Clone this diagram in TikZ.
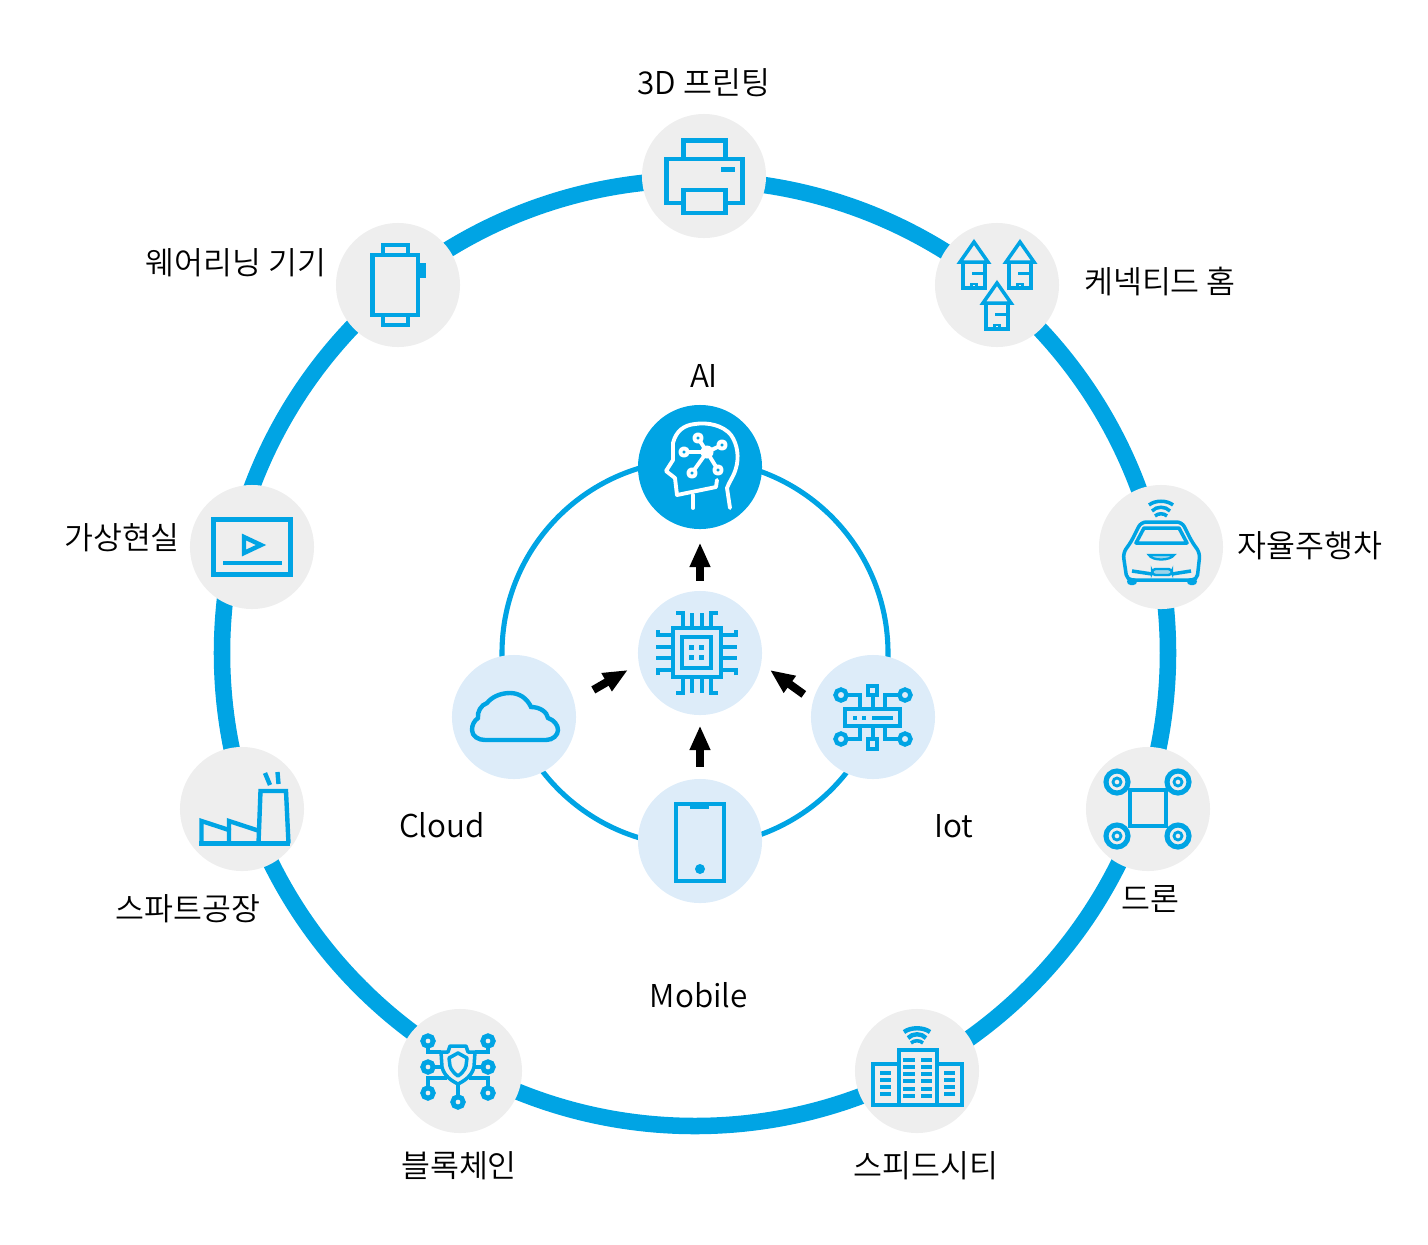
\documentclass[tikz,border=0pt]{standalone}
\usepackage{fontspec}
\setmainfont{Noto Sans CJK KR DemiLight}
\usetikzlibrary{arrows.meta}
\definecolor{ringblue}{HTML}{00A4E4}
\definecolor{softgrey}{HTML}{EEEEEE}
\definecolor{softblue}{HTML}{DDECF9}
\tikzset{
	outnode/.style={circle, fill=softgrey, inner sep=0pt, minimum size=70.6pt},
	innode/.style={circle, fill=softblue, inner sep=0pt, minimum size=70.6pt},
	ainode/.style={circle, fill=ringblue, inner sep=0pt, minimum size=70.6pt},
	lab/.style={inner sep=0pt, font=\fontsize{17.9pt}{20pt}\selectfont},
	bigring/.style={draw=ringblue, line width=9.4pt},
	smallring/.style={draw=ringblue, line width=2.9pt},
	icon/.style={draw=ringblue, line width=2.5pt},
	thinicon/.style={draw=ringblue, line width=2pt},
	flow/.style={-{Triangle[width=11pt,length=14pt]}, line width=4.6pt, black},
}
\begin{document}
\begin{tikzpicture}[x=0.02cm, y=-0.02cm]
	\useasboundingbox (0,0) rectangle (1428,1245);
	\coordinate (hub) at (695,653);
	\draw[bigring] (hub) circle (473);
	\draw[smallring] (hub) circle (193);
	% outer nodes
	\node[outnode] (printer) at (704,176) {};
	\node[outnode] (homes) at (997,285) {};
	\node[outnode] (car) at (1161,547) {};
	\node[outnode] (drone) at (1148,809) {};
	\node[outnode] (city) at (917,1071) {};
	\node[outnode] (chain) at (460,1071) {};
	\node[outnode] (factory) at (242,809) {};
	\node[outnode] (screen) at (252,547) {};
	\node[outnode] (watch) at (398,285) {};
	% inner nodes
	\node[ainode] (ai) at (700,467) {};
	\node[innode] (chip) at (700,653) {};
	\node[innode] (cloud) at (514,717) {};
	\node[innode] (iot) at (873,717) {};
	\node[innode] (mobile) at (700,841) {};
	\draw[flow, shorten <=5.7pt, shorten >=7.5pt] (chip) -- (ai);
	\draw[flow, shorten <=6.8pt, shorten >=5.8pt] (mobile) -- (chip);
	\draw[flow, shorten <=12.5pt, shorten >=7pt] (cloud.15) -- (chip.190);
	\draw[flow, shorten <=6.3pt, shorten >=6pt] (iot.165) -- (chip.-10);
	% labels
	\node[lab] (printerlab) at (704,83) {3D 프린팅};
	\node[lab] (homeslab) at (1160,281) {케넥티드 홈};
	\node[lab] (carlab) at (1310,546) {자율주행차};
	\node[lab] (dronelab) at (1150,899) {드론};
	\node[lab] (citylab) at (926,1166) {스피드시티};
	\node[lab] (chainlab) at (459,1166) {블록체인};
	\node[lab] (factorylab) at (188,909) {스파트공장};
	\node[lab] (screenlab) at (122,538) {가상현실};
	\node[lab] (watchlab) at (236,263) {웨어리닝 기기};
	\node[lab] (ailab) at (704,376) {AI};
	\node[lab] (cloudlab) at (442,825) {Cloud};
	\node[lab] (iotlab) at (954,826) {Iot};
	\node[lab] (mobilelab) at (699,995) {Mobile};
	% printer
	\draw[icon] (683.5,140.5) rectangle (725.5,159);
	\draw[icon] (666.5,159) rectangle (742.5,203);
	\draw[icon, fill=softgrey] (683.5,190) rectangle (725.5,213);
	\fill[ringblue] (721,167) rectangle (735,172);
	% watch
	\draw[icon] (372.5,255) rectangle (418,315);
	\draw[icon] (383,245) rectangle (408,255);
	\draw[icon] (383,315) rectangle (408,325);
	\fill[ringblue] (420,263) rectangle (426,278);
	% screen
	\draw[icon] (213.5,519.5) rectangle (290.5,574.5);
	\draw[icon] (244,537) -- (244,553) -- (261,545) -- cycle;
	\draw[icon] (223,563) -- (282,563);
	% factory
	\draw[icon] (201.5,843.5) -- (201.5,821) -- (229,830) -- (229,843.5);
	\draw[icon] (229,830) -- (229,821) -- (258,830.5);
	\draw[icon] (258.5,843.5) -- (260.5,791) -- (286,791) -- (288.5,843.5);
	\draw[icon] (199,843.5) -- (290,843.5);
	\draw[icon] (265,773) -- (270,785);
	\draw[icon] (277.5,772) -- (278.5,784);
	% drone
	\draw[icon] (1130,790) rectangle (1166,826);
	\foreach \dx/\dy in {1117/782,1178/782,1117/836,1178/836}{
		\draw[draw=ringblue, line width=2.9pt, fill=softgrey] (\dx,\dy) circle (11);
		\draw[draw=ringblue, line width=1.6pt] (\dx,\dy) circle (4);
	}
	% houses
	\foreach \hx/\hy in {974/240,1020/240,997/281}{
		\begin{scope}[shift={(\hx,\hy)}]
			\draw[thinicon] (-14,22) -- (0,2) -- (14,22) -- cycle;
			\draw[thinicon] (-11,22) -- (-11,48) -- (11,48) -- (11,22);
			\draw[draw=ringblue, line width=1.2pt] (-2.5,48) -- (-2.5,44) -- (2.5,44) -- (2.5,48);
			\fill[ringblue] (-2,32) rectangle (9,35);
		\end{scope}
	}
	% car
	\foreach \r/\c in {6/505,4.5/511}{
		\draw[thinicon] (1161-\r*2,\c) .. controls (1161-\r,\c-5) and (1161+\r,\c-5) .. (1161+\r*2,\c);
	}
	\draw[thinicon] (1155,516) .. controls (1158,513) and (1164,513) .. (1167,516);
	\draw[thinicon, rounded corners=3pt] (1127,580) -- (1123,553) -- (1131,542) -- (1141,522) -- (1182,522) -- (1192,542) -- (1200,553) -- (1197,580) -- cycle;
	\draw[thinicon, line join=round] (1144,528) -- (1136,543) -- (1187,543) -- (1179,528) -- cycle;
	\draw[draw=ringblue, line width=1.3pt, fill=ringblue!35!softgrey] (1149,555) .. controls (1152,561) and (1170,561) .. (1174,555) -- cycle;
	\draw[draw=ringblue, line width=1.4pt, fill=ringblue!35!softgrey, rounded corners=2pt] (1152,569) rectangle (1172,575);
	\draw[thinicon] (1132,571) -- (1152,574);
	\draw[thinicon] (1191,571) -- (1172,574);
	\fill[ringblue, rounded corners=2pt] (1127,578) rectangle (1137,585);
	\fill[ringblue, rounded corners=2pt] (1187,578) rectangle (1197,585);
	% city
	\foreach \r/\c in {6.5/1032,4.5/1038}{
		\draw[icon] (917-\r*2,\c) .. controls (917-\r,\c-5) and (917+\r,\c-5) .. (917+\r*2,\c);
	}
	\draw[thinicon] (911,1043) .. controls (914,1040) and (920,1040) .. (923,1043);
	\draw[icon] (873,1064) rectangle (962,1105);
	\draw[icon, fill=softgrey] (899,1050) rectangle (937,1105);
	\foreach \wy in {1058,1065,1072,1079,1087,1094}{
		\fill[ringblue] (903,\wy) rectangle (915,\wy+4);
		\fill[ringblue] (921,\wy) rectangle (932,\wy+4);
	}
	\foreach \wy in {1071,1078,1085,1092}{
		\fill[ringblue] (880,\wy) rectangle (891,\wy+4);
		\fill[ringblue] (944,\wy) rectangle (955,\wy+4);
	}
	% shield
	\draw[thinicon, line join=round] (441,1052) -- (448,1052) -- (450,1046) -- (466,1046) -- (468,1052) -- (475,1052) -- (474,1067) .. controls (472,1076) and (464,1081) .. (458,1084) .. controls (452,1081) and (444,1076) .. (442,1067) -- cycle;
	\draw[thinicon, line join=round] (458,1053) -- (467,1058) -- (466,1066) .. controls (465,1070) and (461,1074) .. (458,1076) .. controls (455,1074) and (451,1070) .. (450,1066) -- (449,1058) -- cycle;
	\foreach \cx/\cy in {428/1041,488/1041,428/1067,488/1067,428/1093,488/1093,458/1102}{
		\draw[draw=ringblue, line width=2.8pt] (\cx,\cy) circle (5.2);
	}
	\draw[thinicon] (428,1047) -- (428,1052) -- (441,1052);
	\draw[thinicon] (488,1047) -- (488,1052) -- (475,1052);
	\draw[thinicon] (434,1067) -- (442,1067);
	\draw[thinicon] (482,1067) -- (474,1067);
	\draw[thinicon] (428,1087) -- (428,1078) -- (447,1078);
	\draw[thinicon] (488,1087) -- (488,1078) -- (469,1078);
	\draw[thinicon] (458,1096) -- (458,1084);
	% ai head
	\begin{scope}[draw=white, line width=2.2pt, line join=round, line cap=round]
		\draw (717,480) -- (716,487) -- (677,495) -- (675,478) -- (666,471) -- (673,460) -- (673,443) .. controls (676,431) and (684,425) .. (695,424) .. controls (707,422) and (723,425) .. (731,435) .. controls (738,445) and (739,458) .. (736,468) .. controls (734,476) and (729,482) .. (727,488) -- (730,508);
		\draw (693,495) -- (693,508);
		\fill[white] (707,452) circle (6.5);
		\foreach \nx/\ny in {698/438,684/452,722/445,692/473,718/470}{
			\draw (707,452) -- (\nx,\ny);
			\draw[fill=ringblue] (\nx,\ny) circle (3.7);
		}
	\end{scope}
	% chip
	\draw[icon] (673,628) rectangle (721,677);
	\draw[icon] (682,637) rectangle (711,668);
	\foreach \qx/\qy in {689/645,699/645,689/655,699/655}{
		\fill[ringblue] (\qx,\qy) rectangle (\qx+5,\qy+5);
	}
	\foreach \px in {692,702}{
		\draw[icon] (\px,613) -- (\px,626);
		\draw[icon] (\px,679) -- (\px,693);
	}
	\foreach \py in {647,658}{
		\draw[icon] (656,\py) -- (671,\py);
		\draw[icon] (723,\py) -- (737,\py);
	}
	\draw[icon] (676,613) -- (683,613) -- (683,626);
	\draw[icon] (718,613) -- (711,613) -- (711,626);
	\draw[icon] (676,693) -- (683,693) -- (683,679);
	\draw[icon] (718,693) -- (711,693) -- (711,679);
	\draw[icon] (658,630) -- (658,635) -- (671,635);
	\draw[icon] (658,675) -- (658,670) -- (671,670);
	\draw[icon] (736,630) -- (736,635) -- (723,635);
	\draw[icon] (736,675) -- (736,670) -- (723,670);
	% cloud
	\draw[icon] (485,740) -- (546,740) .. controls (553,740) and (558,735) .. (558,730) .. controls (558,725) and (554,720) .. (548,718) .. controls (547,712) and (540,707) .. (531,707) .. controls (527,698) and (519,693) .. (510,693) .. controls (499,693) and (491,698) .. (487,703) .. controls (481,705) and (477,712) .. (478,718) .. controls (474,721) and (472,725) .. (472,730) .. controls (472,736) and (478,740) .. (485,740);
	% phone
	\draw[icon] (676,804) rectangle (724,881);
	\fill[ringblue] (690,804) rectangle (709,809);
	\fill[ringblue] (700,869) circle (5);
	% iot
	\draw[icon] (845,709) rectangle (900,726);
	\draw[icon] (868,686) rectangle (877,695);
	\draw[icon] (868,739) rectangle (877,749);
	\draw[icon] (873,697) -- (873,707);
	\draw[icon] (873,728) -- (873,737);
	\foreach \ix/\iy in {841/695,905/695,841/739,905/739}{
		\draw[icon] (\ix,\iy) circle (5.5);
	}
	\draw[icon] (847,695) -- (860,695) -- (860,707);
	\draw[icon] (899,695) -- (885,695) -- (885,707);
	\draw[icon] (847,739) -- (860,739) -- (860,728);
	\draw[icon] (899,739) -- (885,739) -- (885,728);
	\fill[ringblue] (853,716) rectangle (857,720);
	\fill[ringblue] (862,716) rectangle (866,720);
	\fill[ringblue] (872,716) rectangle (893,720);
\end{tikzpicture}
\end{document}
